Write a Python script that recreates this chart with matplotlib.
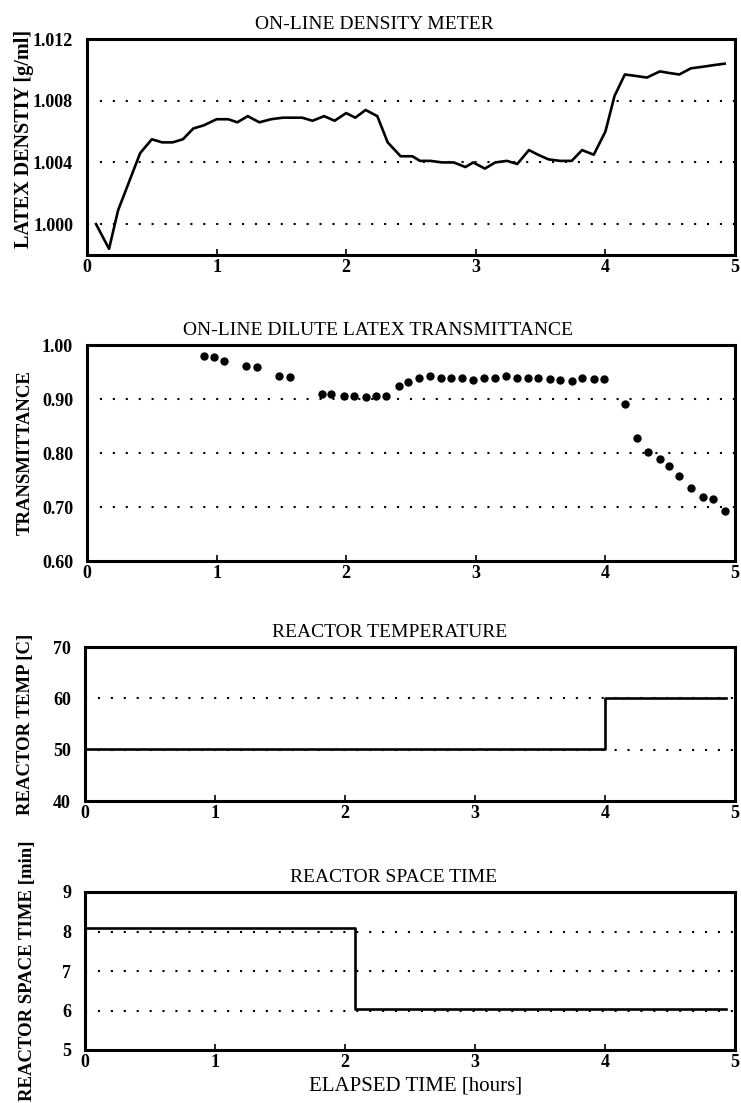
import numpy as np
import matplotlib
matplotlib.use("Agg")
import matplotlib.pyplot as plt

plt.rcParams['font.family'] = ['Liberation Serif', 'DejaVu Serif']

# on-line density meter trace
density_time = [0.07, 0.17, 0.24, 0.41, 0.50, 0.58, 0.66, 0.74, 0.82, 0.90,
                1.00, 1.09, 1.16, 1.24, 1.33, 1.42, 1.51, 1.59, 1.66, 1.74,
                1.83, 1.91, 2.00, 2.07, 2.15, 2.24, 2.32, 2.42, 2.51, 2.57,
                2.65, 2.74, 2.83, 2.92, 2.98, 3.07, 3.15, 3.24, 3.32, 3.41,
                3.48, 3.56, 3.65, 3.74, 3.82, 3.91, 4.00, 4.07, 4.15, 4.24,
                4.32, 4.42, 4.49, 4.57, 4.66, 4.75, 4.83, 4.92]
density = [1.0000, 0.9984, 1.0009, 1.0046, 1.0055, 1.0053, 1.0053, 1.0055, 1.0062, 1.0064,
           1.0068, 1.0068, 1.0066, 1.0070, 1.0066, 1.0068, 1.0069, 1.0069, 1.0069, 1.0067,
           1.0070, 1.0067, 1.0072, 1.0069, 1.0074, 1.0070, 1.0053, 1.0044, 1.0044, 1.0041,
           1.0041, 1.0040, 1.0040, 1.0037, 1.0040, 1.0036, 1.0040, 1.0041, 1.0039, 1.0048,
           1.0045, 1.0042, 1.0041, 1.0041, 1.0048, 1.0045, 1.0060, 1.0083, 1.0097, 1.0096,
           1.0095, 1.0099, 1.0098, 1.0097, 1.0101, 1.0102, 1.0103, 1.0104]

# dilute latex transmittance samples
trans_time = [0.90, 0.98, 1.06, 1.23, 1.31, 1.48, 1.57, 1.81, 1.88, 1.98,
              2.06, 2.15, 2.23, 2.31, 2.41, 2.48, 2.56, 2.65, 2.73, 2.81,
              2.89, 2.98, 3.06, 3.15, 3.23, 3.32, 3.40, 3.48, 3.57, 3.65,
              3.74, 3.82, 3.91, 3.99, 4.15, 4.24, 4.33, 4.42, 4.49, 4.57,
              4.66, 4.75, 4.83, 4.92]
transmittance = [0.980, 0.977, 0.971, 0.962, 0.959, 0.943, 0.940, 0.909, 0.909, 0.905,
                 0.905, 0.903, 0.905, 0.905, 0.925, 0.931, 0.939, 0.943, 0.939, 0.939,
                 0.939, 0.936, 0.939, 0.939, 0.943, 0.939, 0.939, 0.939, 0.937, 0.936,
                 0.933, 0.939, 0.937, 0.937, 0.891, 0.828, 0.801, 0.788, 0.776, 0.757,
                 0.735, 0.718, 0.715, 0.692]

# set-point steps
temp_time = [0.0, 4.0, 4.0, 4.93]
temp = [50.1, 50.1, 60.0, 60.0]
space_time_t = [0.0, 2.08, 2.08, 4.93]
space_time = [8.09, 8.09, 6.04, 6.04]

x_ticks = [0, 1, 2, 3, 4, 5]

W, H = 741, 1103
fig = plt.figure(figsize=(W / 100, H / 100), dpi=100)


def make_axes(left, right, top, bottom):
    return fig.add_axes([left / W, 1 - bottom / H, (right - left) / W, (bottom - top) / H])


def style(ax, title, title_x, ylabel, ylim, yticks, ylabels, grid_vals, ylab_x,
          ylab_size=13.5, ylab_y=0.5):
    ax.set_xlim(0, 5)
    ax.set_ylim(*ylim)
    ax.set_xticks(x_ticks)
    ax.set_xticklabels([str(t) for t in x_ticks], fontsize=13, fontweight='bold')
    ax.set_yticks(yticks)
    ax.set_yticklabels(ylabels, fontsize=13, fontweight='bold')
    ax.tick_params(axis='x', direction='in', length=4, width=1.2, pad=3)
    ax.tick_params(axis='y', length=0, pad=10)
    for s in ax.spines.values():
        s.set_linewidth(2.2)
    for g in grid_vals:
        ax.axhline(g, color='black', lw=1.5, ls=(0, (1, 5.2)), zorder=1)
    ax.set_title(title, fontsize=14, pad=7, x=title_x)
    ax.set_ylabel(ylabel, fontsize=ylab_size, fontweight='bold')
    ax.yaxis.set_label_coords(ylab_x, ylab_y)


ax1 = make_axes(87, 735, 39, 255)
ax1.plot(density_time, density, color='black', lw=1.9, zorder=3)
style(ax1, 'ON-LINE DENSITY METER', 0.444, 'LATEX DENSTIY [g/ml]', (0.998, 1.012),
      [1.000, 1.004, 1.008, 1.012], ['1.000', '1.004', '1.008', '1.012'],
      [1.000, 1.004, 1.008], -0.082, ylab_size=14.5, ylab_y=0.537)

ax2 = make_axes(87, 735, 345, 561)
ax2.plot(trans_time, transmittance, 'o', color='black', ms=5, zorder=3)
style(ax2, 'ON-LINE DILUTE LATEX TRANSMITTANCE', 0.449, 'TRANSMITTANCE', (0.6, 1.0),
      [0.6, 0.7, 0.8, 0.9, 1.0], ['0.60', '0.70', '0.80', '0.90', '1.00'],
      [0.7, 0.8, 0.9], -0.082)

ax3 = make_axes(85, 735, 647, 801)
ax3.plot(temp_time, temp, color='black', lw=1.9, zorder=3)
style(ax3, 'REACTOR TEMPERATURE', 0.468, 'REACTOR TEMP [C]', (40, 70),
      [40, 50, 60, 70], ['40', '50', '60', '70'], [50, 60], -0.078)

ax4 = make_axes(85, 735, 892, 1050)
ax4.plot(space_time_t, space_time, color='black', lw=1.9, zorder=3)
style(ax4, 'REACTOR SPACE TIME', 0.474, 'REACTOR SPACE TIME [min]', (5, 9),
      [5, 6, 7, 8, 9], ['5', '6', '7', '8', '9'], [6, 7, 8], -0.076)
ax4.set_xlabel('ELAPSED TIME [hours]', fontsize=15)
ax4.xaxis.set_label_coords(0.509, -0.17)
ax4.xaxis.label.set_va('top')

fig.savefig('out.png', dpi=100, facecolor='white')
